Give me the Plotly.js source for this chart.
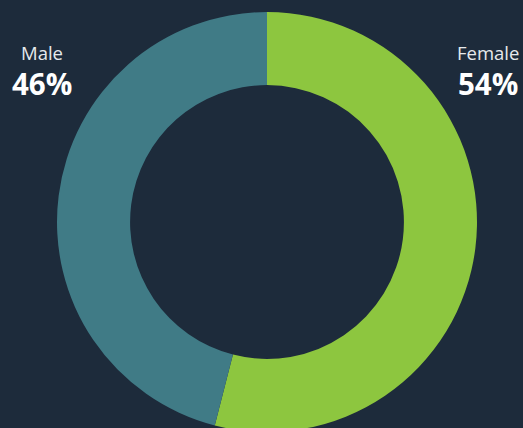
<!DOCTYPE html>
<html>
<head>
<meta charset="utf-8">
<script src="https://cdn.plot.ly/plotly-3.0.1.min.js"></script>
<style>
html,body{margin:0;padding:0;background:#1d2b3b;overflow:hidden;}
#chart{width:523px;height:432px;}
</style>
</head>
<body>
<div id="chart"></div>
<script>
const categories = ["Female", "Male"];
const values = [54, 46];
const colors = ["#8dc63f", "#407b86"];
const labelText = ["54%", "46%"];

const W = 523, H = 432, L = 57, R = 46, T = 12, B = 0;
const pw = W - L - R, ph = H - T - B;
function px(x) { return (x - L) / pw; }
function py(y) { return (H - B - y) / ph; }

const labelPos = { Female: 488, Male: 42 };
const annotations = [];
categories.forEach((c, i) => {
  annotations.push({
    text: c, x: px(labelPos[c]), y: py(52), xref: "paper", yref: "paper",
    xanchor: "center", yanchor: "middle", showarrow: false,
    font: { family: "Open Sans", size: 18.5, color: "#e6e9ec" }
  });
  annotations.push({
    text: "<b>" + labelText[i] + "</b>", x: px(labelPos[c]), y: py(84), xref: "paper", yref: "paper",
    xanchor: "center", yanchor: "middle", showarrow: false,
    font: { family: "Open Sans", size: 29.5, color: "#ffffff" }
  });
});

Plotly.newPlot("chart", [{
  type: "pie",
  labels: categories,
  values: values,
  hole: 0.652,
  sort: false,
  direction: "clockwise",
  rotation: 0,
  marker: { colors: colors, line: { width: 0 } },
  textinfo: "none",
  hoverinfo: "none"
}], {
  width: W, height: H,
  margin: { l: L, r: R, t: T, b: B },
  paper_bgcolor: "#1d2b3b",
  plot_bgcolor: "#1d2b3b",
  showlegend: false,
  annotations: annotations
}, { displayModeBar: false, staticPlot: true });
</script>
</body>
</html>
